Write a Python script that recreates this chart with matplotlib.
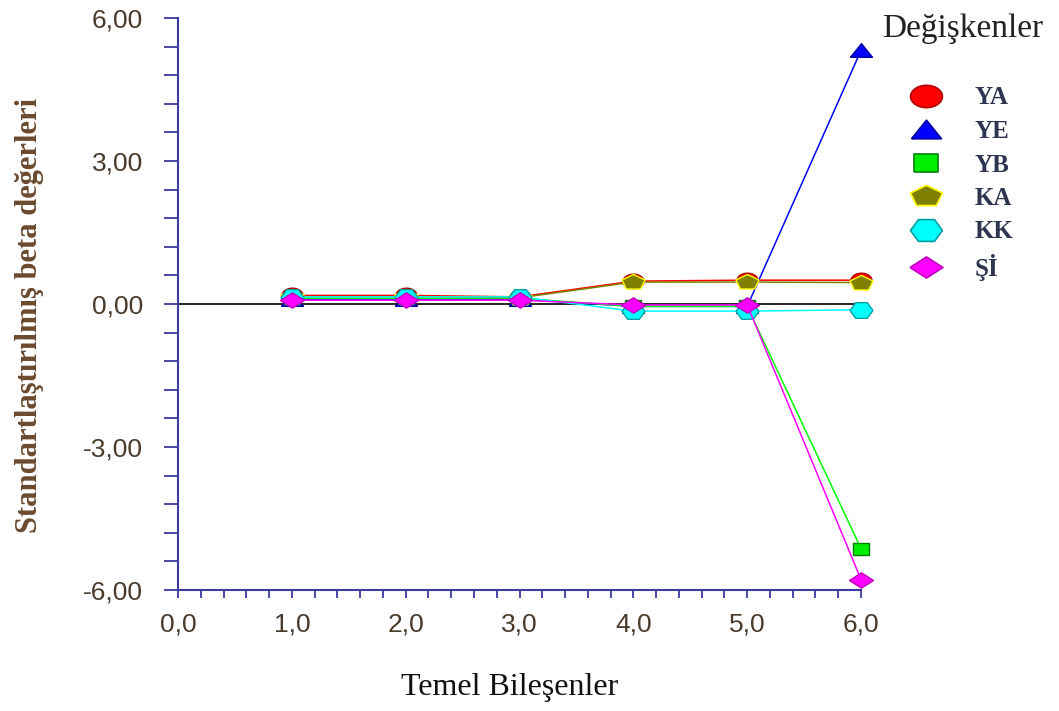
import matplotlib.pyplot as plt
from matplotlib.lines import Line2D
from matplotlib.ticker import MultipleLocator, FuncFormatter
import numpy as np

# temel bileşen numaraları
components = [1, 2, 3, 4, 5, 6]

# standartlaştırılmış beta değerleri
ya = [0.18, 0.18, 0.15, 0.48, 0.50, 0.50]
ye = [0.10, 0.10, 0.10, -0.05, -0.05, 5.32]
yb = [0.12, 0.12, 0.12, -0.05, -0.05, -5.13]
ka = [0.15, 0.15, 0.13, 0.46, 0.46, 0.45]
kk = [0.15, 0.15, 0.15, -0.15, -0.15, -0.12]
si = [0.08, 0.08, 0.08, -0.02, -0.02, -5.78]

names = ["YA", "YE", "YB", "KA", "KK", "Şİ"]

PX = 72 / 100  # pixels -> points at dpi 100


# markers in the original are stretched horizontally: unit width, given height
def stretched(kind, aspect):
  if kind == "circle":
    t = np.linspace(0, 2 * np.pi, 25)
    pts = np.c_[np.cos(t), np.sin(t)]
  elif kind == "triangle":
    pts = np.array([[-1, -1], [1, -1], [0, 1], [-1, -1]])
  elif kind == "square":
    pts = np.array([[-1, -1], [1, -1], [1, 1], [-1, 1], [-1, -1]])
  elif kind == "pentagon":
    t = np.pi / 2 + np.arange(6) * 2 * np.pi / 5
    pts = np.c_[np.cos(t), np.sin(t)]
  elif kind == "hexagon":
    t = np.arange(7) * 2 * np.pi / 6
    pts = np.c_[np.cos(t), np.sin(t)]
  else:
    pts = np.array([[-1, 0], [0, 1], [1, 0], [0, -1], [-1, 0]])
  pts = pts.astype(float)
  pts[:, 0] /= np.abs(pts[:, 0]).max()
  pts[:, 1] /= np.abs(pts[:, 1]).max()
  pts[:, 1] *= aspect
  return pts


# kind, aspect, width in plot (px), width in legend (px)
styles = [
  dict(color="#ff0000", kind="circle", asp=0.7, w=21, lw_=32, mfc="#ff0000", mec="#b00000"),
  dict(color="#0000ff", kind="triangle", asp=0.62, w=22, lw_=30, mfc="#0000ff", mec="#0000a0"),
  dict(color="#00ff00", kind="square", asp=0.72, w=16, lw_=24, mfc="#00ee00", mec="#008000"),
  dict(color="#808000", kind="pentagon", asp=0.7, w=23, lw_=32, mfc="#808000", mec="#ffff00"),
  dict(color="#00ffff", kind="hexagon", asp=0.68, w=23, lw_=32, mfc="#00ffff", mec="#00a0a0"),
  dict(color="#ff00ff", kind="diamond", asp=0.64, w=24, lw_=33, mfc="#ff00ff", mec="#c000c0"),
]
series = [ya, ye, yb, ka, kk, si]

fig = plt.figure(figsize=(10.59, 7.11), dpi=100)
ax = fig.add_axes([178 / 1059, 1 - 590 / 711, (861 - 178) / 1059, (590 - 18) / 711])

ax.plot([0, 6], [0, 0], color="black", lw=1.2, zorder=1)

for vals, st in zip(series, styles):
  ax.plot(components, vals, lw=1.1, color=st["color"], marker=stretched(st["kind"], st["asp"]),
          markerfacecolor=st["mfc"], markeredgecolor=st["mec"], markersize=st["w"] * PX,
          markeredgewidth=1.0, clip_on=False, zorder=3)

ax.set_xlim(0, 6)
ax.set_ylim(-6, 6)
ax.xaxis.set_major_locator(MultipleLocator(1))
ax.xaxis.set_minor_locator(MultipleLocator(0.2))
ax.yaxis.set_major_locator(MultipleLocator(3))
ax.yaxis.set_minor_locator(MultipleLocator(0.6))
ax.xaxis.set_major_formatter(FuncFormatter(lambda v, p: f"{v:.1f}".replace(".", ",")))
ax.yaxis.set_major_formatter(FuncFormatter(lambda v, p: f"{v:.2f}".replace(".", ",")))

axis_col = "#3a3aa0"
for side in ["top", "right"]:
  ax.spines[side].set_visible(False)
for side in ["left", "bottom"]:
  ax.spines[side].set_color(axis_col)
  ax.spines[side].set_linewidth(1.5)
ax.tick_params(which="both", direction="out", width=1.3, color=axis_col,
               labelsize=19, labelcolor="#4a3a2a")
ax.tick_params(axis="y", which="both", length=10, pad=15)
ax.tick_params(axis="x", which="both", length=6, pad=10)
for lab in ax.get_xticklabels() + ax.get_yticklabels():
  lab.set_fontfamily("Liberation Sans")

ax.set_xlabel("Temel Bileşenler", fontsize=23, family="Liberation Serif", color="#111111", va="center")
ax.xaxis.set_label_coords((510 - 178) / 683, (590 - 688) / 572)
ax.set_ylabel("Standartlaştırılmış beta değerleri", fontsize=22, family="Liberation Serif",
              fontweight="bold", color="#6b4a2e", va="center")
ax.yaxis.set_label_coords((30 - 178) / 683, (590 - 315) / 572)

fig.text(963 / 1059, 1 - 37 / 711, "Değişkenler", fontsize=24, family="Liberation Serif",
         color="#222222", ha="center", va="baseline")

handles = []
for st in styles:
  handles.append(Line2D([], [], linestyle="none", marker=stretched(st["kind"], st["asp"]),
                        markerfacecolor=st["mfc"], markeredgecolor=st["mec"],
                        markersize=st["lw_"] * PX, markeredgewidth=1.2))
leg = fig.legend(handles, names, loc="upper left", bbox_to_anchor=(893 / 1059, 1 - 74 / 711),
                 frameon=False, handlelength=1.6, handletextpad=1.15, labelspacing=0.42,
                 borderpad=0, prop={"family": "Liberation Serif", "weight": "bold", "size": 18})
for t in leg.get_texts():
  t.set_color("#2e3550")

fig.savefig("out.png", dpi=100)
